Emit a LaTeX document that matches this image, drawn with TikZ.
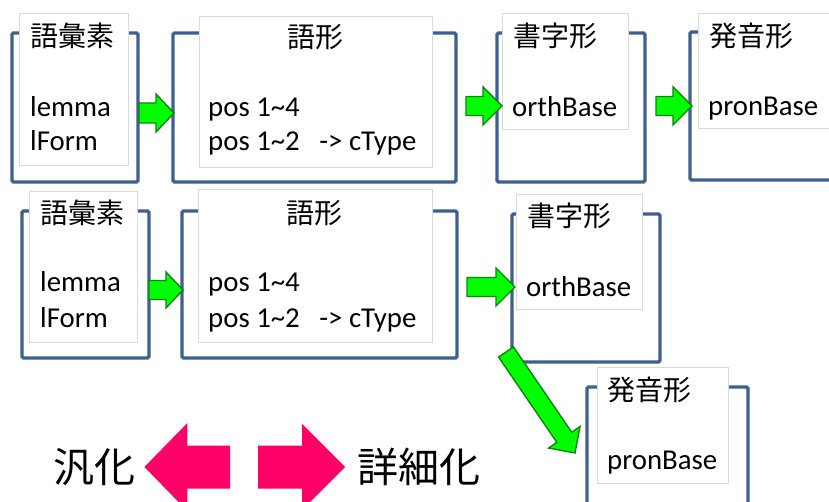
\documentclass[tikz,border=0pt]{standalone}
\usepackage{fontspec}
\setmainfont{Carlito}
\newfontfamily\jp{Noto Sans CJK JP}
\usetikzlibrary{calc}

\definecolor{frameblue}{HTML}{3F5F8E}
\definecolor{labelgray}{HTML}{DADADA}
\definecolor{arrowgreen}{HTML}{00FF00}
\definecolor{arrowedge}{HTML}{0E840E}
\definecolor{arrowpink}{HTML}{FF0066}

% block arrow: style, tail, tip, shaft half width, head half width, head length
\newcommand\blockarrow[6]{%
  \filldraw[#1]
    ($(#2)!#4!90:(#3)$)
    -- ($(#3)!#6!(#2)!#4!-90:(#2)$)
    -- ($(#3)!#6!(#2)!#5!-90:(#2)$)
    -- (#3)
    -- ($(#3)!#6!(#2)!#5!90:(#2)$)
    -- ($(#3)!#6!(#2)!#4!90:(#2)$)
    -- ($(#2)!#4!-90:(#3)$)
    -- cycle;}

\tikzset{
  frame/.style={draw=frameblue, line width=3.3pt, rounded corners=1.5pt,
    inner sep=0pt, outer sep=0pt, anchor=north west},
  labelbox/.style={draw=labelgray, line width=0.8pt, fill=white,
    inner sep=0pt, outer sep=0pt, anchor=north west},
  title/.style={font=\jp\fontsize{28}{30}\selectfont, inner sep=0pt, anchor=west},
  body/.style={font=\fontsize{28.8}{34}\selectfont, inner sep=0pt, anchor=base west},
  bigtext/.style={font=\jp\fontsize{41}{44}\selectfont, inner sep=0pt, anchor=west},
  greenarrow/.style={fill=arrowgreen, draw=arrowedge, line width=1.4pt, line join=miter},
  pinkarrow/.style={fill=arrowpink, draw=none},
}

\begin{document}
\begin{tikzpicture}[x=1pt, y=-1pt]
\useasboundingbox (0,0) rectangle (829,502);
\clip (0,0) rectangle (829,502);

% ---------- upper chain ----------
\node[frame, minimum width=126pt, minimum height=149pt] (fA1) at (12,33) {};
\node[frame, minimum width=283pt, minimum height=149pt] (fB1) at (173,33) {};
\node[frame, minimum width=148pt, minimum height=149pt] (fC1) at (497,33) {};
\node[frame, minimum width=180pt, minimum height=148pt] (fD1) at (690,32) {};

\node[labelbox, minimum width=109pt, minimum height=152pt] (lA1) at (19,13) {};
\node[labelbox, minimum width=233pt, minimum height=151pt] (lB1) at (199,16) {};
\node[labelbox, minimum width=126pt, minimum height=116pt] (lC1) at (502,13) {};
\node[labelbox, minimum width=150pt, minimum height=115pt] (lD1) at (698,13) {};

\node[title] (tA1) at (30,36) {語彙素};
\node[body] (bA1a) at (30,117) {lemma};
\node[body] (bA1b) at (30,151) {lForm};

\node[title, anchor=center] (tB1) at (315,37) {語形};
\node[body] (bB1a) at (208,117) {pos 1\textasciitilde 4};
\node[body] (bB1b) at (208,151) {pos 1\textasciitilde 2\ \ \ -> cType};

\node[title] (tC1) at (513,36) {書字形};
\node[body] (bC1) at (512,117) {orthBase};

\node[title] (tD1) at (709,36) {発音形};
\node[body] (bD1) at (708,116) {pronBase};

% ---------- lower chain ----------
\node[frame, minimum width=127pt, minimum height=147pt] (fA2) at (22,211) {};
\node[frame, minimum width=275pt, minimum height=147pt] (fB2) at (182,211) {};
\node[frame, minimum width=148pt, minimum height=148pt] (fC2) at (512,214) {};
\node[frame, minimum width=161pt, minimum height=160pt] (fD2) at (587,387) {};

\node[labelbox, minimum width=108pt, minimum height=151pt] (lA2) at (29,191) {};
\node[labelbox, minimum width=234pt, minimum height=153pt] (lB2) at (198,189) {};
\node[labelbox, minimum width=126pt, minimum height=115pt] (lC2) at (516,194) {};
\node[labelbox, minimum width=131pt, minimum height=116pt] (lD2) at (597,367) {};

\node[title] (tA2) at (40,213) {語彙素};
\node[body] (bA2a) at (40,292) {lemma};
\node[body] (bA2b) at (40,327) {lForm};

\node[title, anchor=center] (tB2) at (314.5,213) {語形};
\node[body] (bB2a) at (208,292) {pos 1\textasciitilde 4};
\node[body] (bB2b) at (208,327) {pos 1\textasciitilde 2\ \ \ -> cType};

\node[title] (tC2) at (527,216) {書字形};
\node[body] (bC2) at (526,297) {orthBase};

\node[title] (tD2) at (607,390) {発音形};
\node[body] (bD2) at (607,469) {pronBase};

% ---------- green connectors ----------
\coordinate (a1t) at ($(fA1.east)+(1,5.5)$);
\coordinate (a1h) at ($(fB1.west)+(1,5.5)$);
\coordinate (a2t) at ($(fB1.east)+(10,-1.5)$);
\coordinate (a2h) at ($(fC1.west)+(5,-1.5)$);
\coordinate (a3t) at ($(fC1.east)+(11,-1.5)$);
\coordinate (a3h) at ($(fD1.west)+(2,0)$);

\coordinate (b1t) at ($(fA2.east)+(0,5.5)$);
\coordinate (b1h) at ($(fB2.west)+(1,5.5)$);
\coordinate (b2t) at ($(fB2.east)+(10,2.5)$);
\coordinate (b2h) at ($(fC2.west)+(3,-1)$);
\coordinate (b3t) at ($(fC2.south west)+(-6,-10)$);
\coordinate (b3h) at ($(fD2.north west)+(-12,66)$);

\blockarrow{greenarrow}{a1t}{a1h}{10pt}{19pt}{18pt}
\blockarrow{greenarrow}{a2t}{a2h}{9.5pt}{19pt}{19pt}
\blockarrow{greenarrow}{a3t}{a3h}{9.5pt}{19pt}{19pt}
\blockarrow{greenarrow}{b1t}{b1h}{9.5pt}{18pt}{17pt}
\blockarrow{greenarrow}{b2t}{b2h}{9.5pt}{19pt}{19pt}
\blockarrow{greenarrow}{b3t}{b3h}{9pt}{19pt}{19pt}

% ---------- legend ----------
\node[bigtext] (gen) at (53,467) {汎化};
\node[bigtext] (spec) at (357,467) {詳細化};
\coordinate (mid) at (244,467);
\coordinate (ltail) at ($(mid)+(-14,0)$);
\coordinate (rtail) at ($(mid)+(14,0)$);
\coordinate (ltip) at ($(gen.east)+(9,0)$);
\coordinate (rtip) at ($(spec.west)+(-12,0)$);
\blockarrow{pinkarrow}{ltail}{ltip}{21.5pt}{44pt}{43pt}
\blockarrow{pinkarrow}{rtail}{rtip}{21.5pt}{43pt}{43pt}
\end{tikzpicture}
\end{document}
